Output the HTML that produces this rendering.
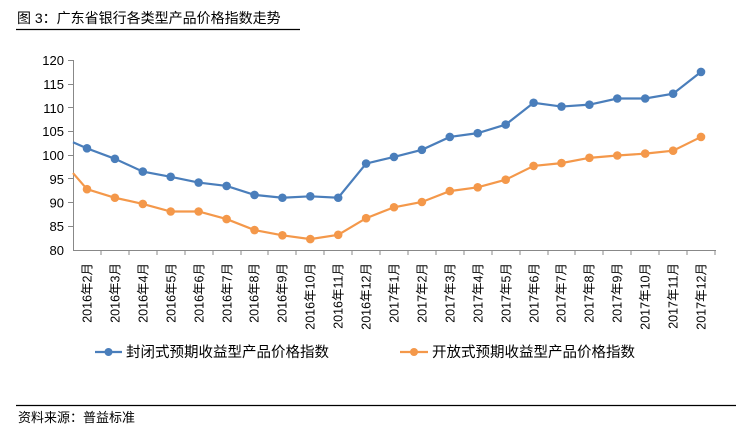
<!DOCTYPE html>
<html><head><meta charset="utf-8"><style>
body{margin:0;background:#fff;width:741px;height:434px;overflow:hidden}
text{font-family:"Liberation Sans","Noto Sans CJK SC",sans-serif}
</style></head><body>
<svg width="741" height="434" xmlns="http://www.w3.org/2000/svg">
<text x="17" y="23" font-size="14" fill="#000">图 3：广东省银行各类型产品价格指数走势</text>
<line x1="16" y1="29.5" x2="300" y2="29.5" stroke="#000" stroke-width="1.2"/>
<g font-size="13" fill="#000" text-anchor="end">
<text x="64" y="255">80</text><text x="64" y="207.5">90</text><text x="64" y="231">85</text>
<text x="64" y="184">95</text><text x="64" y="160">100</text><text x="64" y="136">105</text>
<text x="64" y="113">110</text><text x="64" y="89">115</text><text x="64" y="65">120</text>
</g>
<g stroke="#888" stroke-width="1">
<line x1="73.5" y1="60" x2="73.5" y2="250"/>
<line x1="68" y1="60.5" x2="73" y2="60.5"/><line x1="68" y1="84.5" x2="73" y2="84.5"/>
<line x1="68" y1="107.5" x2="73" y2="107.5"/><line x1="68" y1="131.5" x2="73" y2="131.5"/>
<line x1="68" y1="155.5" x2="73" y2="155.5"/><line x1="68" y1="178.5" x2="73" y2="178.5"/>
<line x1="68" y1="202.5" x2="73" y2="202.5"/><line x1="68" y1="226.5" x2="73" y2="226.5"/>
<line x1="73" y1="250.5" x2="716" y2="250.5"/>
</g>
<g stroke="#888" stroke-width="1">
<line x1="101" y1="250" x2="101" y2="255"/><line x1="129" y1="250" x2="129" y2="255"/><line x1="157" y1="250" x2="157" y2="255"/><line x1="185" y1="250" x2="185" y2="255"/><line x1="213" y1="250" x2="213" y2="255"/><line x1="241" y1="250" x2="241" y2="255"/><line x1="268" y1="250" x2="268" y2="255"/><line x1="296" y1="250" x2="296" y2="255"/><line x1="324" y1="250" x2="324" y2="255"/><line x1="352" y1="250" x2="352" y2="255"/><line x1="380" y1="250" x2="380" y2="255"/><line x1="408" y1="250" x2="408" y2="255"/><line x1="436" y1="250" x2="436" y2="255"/><line x1="464" y1="250" x2="464" y2="255"/><line x1="492" y1="250" x2="492" y2="255"/><line x1="520" y1="250" x2="520" y2="255"/><line x1="548" y1="250" x2="548" y2="255"/><line x1="575" y1="250" x2="575" y2="255"/><line x1="603" y1="250" x2="603" y2="255"/><line x1="631" y1="250" x2="631" y2="255"/><line x1="659" y1="250" x2="659" y2="255"/><line x1="687" y1="250" x2="687" y2="255"/><line x1="715" y1="250" x2="715" y2="255"/>
</g>
<g font-size="12.5" fill="#000" text-anchor="end">
<text transform="translate(91.5,263) rotate(-90)">2016年2月</text>
<text transform="translate(119.5,263) rotate(-90)">2016年3月</text>
<text transform="translate(147.5,263) rotate(-90)">2016年4月</text>
<text transform="translate(175.5,263) rotate(-90)">2016年5月</text>
<text transform="translate(203.5,263) rotate(-90)">2016年6月</text>
<text transform="translate(231.5,263) rotate(-90)">2016年7月</text>
<text transform="translate(258.5,263) rotate(-90)">2016年8月</text>
<text transform="translate(286.5,263) rotate(-90)">2016年9月</text>
<text transform="translate(314.5,263) rotate(-90)">2016年10月</text>
<text transform="translate(342.5,263) rotate(-90)">2016年11月</text>
<text transform="translate(370.5,263) rotate(-90)">2016年12月</text>
<text transform="translate(398.5,263) rotate(-90)">2017年1月</text>
<text transform="translate(426.5,263) rotate(-90)">2017年2月</text>
<text transform="translate(454.5,263) rotate(-90)">2017年3月</text>
<text transform="translate(482.5,263) rotate(-90)">2017年4月</text>
<text transform="translate(510.5,263) rotate(-90)">2017年5月</text>
<text transform="translate(538.5,263) rotate(-90)">2017年6月</text>
<text transform="translate(565.5,263) rotate(-90)">2017年7月</text>
<text transform="translate(593.5,263) rotate(-90)">2017年8月</text>
<text transform="translate(621.5,263) rotate(-90)">2017年9月</text>
<text transform="translate(649.5,263) rotate(-90)">2017年10月</text>
<text transform="translate(677.5,263) rotate(-90)">2017年11月</text>
<text transform="translate(705.5,263) rotate(-90)">2017年12月</text>
</g>
<polyline fill="none" stroke="#4a7ebb" stroke-width="2.2" points="73,142.2 87,148.35 114.9,158.8 142.8,171.6 170.7,176.85 198.6,182.55 226.6,185.9 254.5,194.9 282.4,197.75 310.3,196.3 338.2,197.75 366.1,163.55 394,156.9 421.9,149.8 449.8,136.95 477.7,133.15 505.7,124.6 533.6,102.75 561.5,106.55 589.4,104.65 617.3,98.5 645.2,98.5 673.1,93.7 701,71.9"/>
<g fill="#4a7ebb">
<circle cx="87" cy="148.35" r="4.3"/><circle cx="114.9" cy="158.8" r="4.3"/><circle cx="142.8" cy="171.6" r="4.3"/><circle cx="170.7" cy="176.85" r="4.3"/><circle cx="198.6" cy="182.55" r="4.3"/><circle cx="226.6" cy="185.9" r="4.3"/><circle cx="254.5" cy="194.9" r="4.3"/><circle cx="282.4" cy="197.75" r="4.3"/><circle cx="310.3" cy="196.3" r="4.3"/><circle cx="338.2" cy="197.75" r="4.3"/><circle cx="366.1" cy="163.55" r="4.3"/><circle cx="394" cy="156.9" r="4.3"/><circle cx="421.9" cy="149.8" r="4.3"/><circle cx="449.8" cy="136.95" r="4.3"/><circle cx="477.7" cy="133.15" r="4.3"/><circle cx="505.7" cy="124.6" r="4.3"/><circle cx="533.6" cy="102.75" r="4.3"/><circle cx="561.5" cy="106.55" r="4.3"/><circle cx="589.4" cy="104.65" r="4.3"/><circle cx="617.3" cy="98.5" r="4.3"/><circle cx="645.2" cy="98.5" r="4.3"/><circle cx="673.1" cy="93.7" r="4.3"/><circle cx="701" cy="71.9" r="4.3"/>
</g>
<polyline fill="none" stroke="#f4984a" stroke-width="2.2" points="73,173.05 87,189.2 114.9,197.75 142.8,203.9 170.7,211.5 198.6,211.5 226.6,219.1 254.5,230.05 282.4,235.3 310.3,239.1 338.2,234.8 366.1,218.2 394,207.25 421.9,202 449.8,191.1 477.7,187.3 505.7,179.7 533.6,165.9 561.5,163.1 589.4,157.85 617.3,155.5 645.2,153.6 673.1,150.7 701,136.95"/>
<g fill="#f4984a">
<circle cx="87" cy="189.2" r="4.3"/><circle cx="114.9" cy="197.75" r="4.3"/><circle cx="142.8" cy="203.9" r="4.3"/><circle cx="170.7" cy="211.5" r="4.3"/><circle cx="198.6" cy="211.5" r="4.3"/><circle cx="226.6" cy="219.1" r="4.3"/><circle cx="254.5" cy="230.05" r="4.3"/><circle cx="282.4" cy="235.3" r="4.3"/><circle cx="310.3" cy="239.1" r="4.3"/><circle cx="338.2" cy="234.8" r="4.3"/><circle cx="366.1" cy="218.2" r="4.3"/><circle cx="394" cy="207.25" r="4.3"/><circle cx="421.9" cy="202" r="4.3"/><circle cx="449.8" cy="191.1" r="4.3"/><circle cx="477.7" cy="187.3" r="4.3"/><circle cx="505.7" cy="179.7" r="4.3"/><circle cx="533.6" cy="165.9" r="4.3"/><circle cx="561.5" cy="163.1" r="4.3"/><circle cx="589.4" cy="157.85" r="4.3"/><circle cx="617.3" cy="155.5" r="4.3"/><circle cx="645.2" cy="153.6" r="4.3"/><circle cx="673.1" cy="150.7" r="4.3"/><circle cx="701" cy="136.95" r="4.3"/>
</g>
<line x1="95" y1="352" x2="122" y2="352" stroke="#4a7ebb" stroke-width="2.2"/><circle cx="108.5" cy="352" r="4" fill="#4a7ebb"/>
<text x="126" y="357" font-size="14.5" fill="#000">封闭式预期收益型产品价格指数</text>
<line x1="400" y1="352" x2="428" y2="352" stroke="#f4984a" stroke-width="2.2"/><circle cx="414" cy="352" r="4" fill="#f4984a"/>
<text x="432" y="357" font-size="14.5" fill="#000">开放式预期收益型产品价格指数</text>
<line x1="16" y1="405.5" x2="736" y2="405.5" stroke="#000" stroke-width="1.2"/>
<text x="18" y="422" font-size="13" fill="#000">资料来源：普益标准</text>
</svg>
</body></html>
